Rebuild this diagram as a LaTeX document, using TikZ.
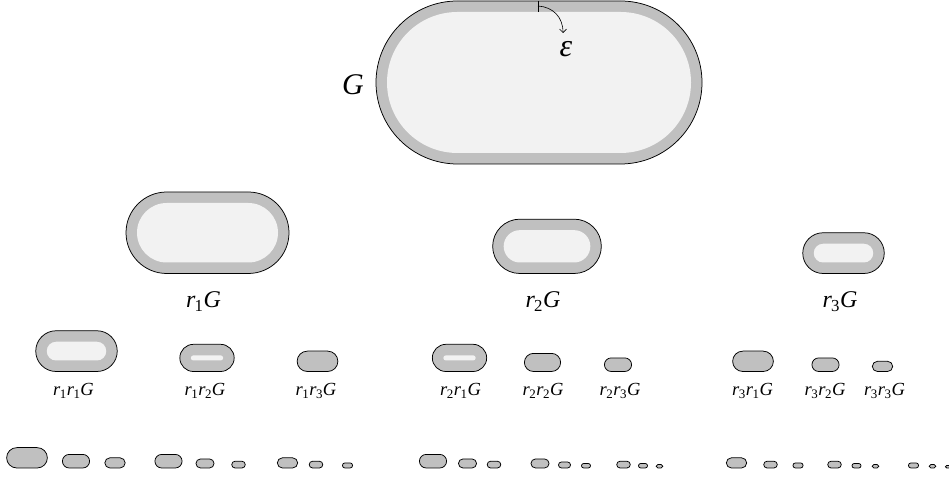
\documentclass[tikz,border=0pt]{standalone}
\usepackage{fontspec}
\setmainfont{Liberation Serif}
\usetikzlibrary{arrows.meta}
\definecolor{bandgray}{HTML}{C0C0C0}
\definecolor{lightin}{HTML}{F2F2F2}
\newcommand\stadpath[5]{\path[#5] ({#1-#3+#4},{#2-#4}) -- ({#1+#3-#4},{#2-#4}) arc[start angle=-90,end angle=90,radius=#4pt] -- ({#1-#3+#4},{#2+#4}) arc[start angle=90,end angle=270,radius=#4pt] -- cycle;}
\newcommand\stadium[3]{%
  \pgfmathsetmacro\stA{163*#3}%
  \pgfmathsetmacro\stR{81.5*#3}%
  \pgfmathsetmacro\stCY{478-(#2)+\stR}%
  \pgfmathsetmacro\stI{\stR-11}%
  \stadpath{#1}{\stCY}{\stA}{\stR}{fill=bandgray}%
  \ifdim\stI pt>0.3pt
    \pgfmathsetmacro\stIA{\stA-11}%
    \stadpath{#1}{\stCY}{\stIA}{\stI}{fill=lightin}%
  \fi
  \stadpath{#1}{\stCY}{\stA}{\stR}{draw=black,line width=0.75pt}%
}
\newcommand\rsub[1]{\textit{r}\kern-0.03em\textsubscript{#1}}
\begin{document}
\begin{tikzpicture}[x=1pt,y=1pt,
  lblA/.style={font=\fontsize{24}{26}\selectfont,anchor=base,inner sep=0pt},
  lblB/.style={font=\fontsize{18.5}{20}\selectfont,anchor=base,inner sep=0pt}]
\useasboundingbox (0,0) rectangle (949,478);
% G
\stadium{539}{164}{1}
\node[font=\fontsize{30}{32}\selectfont,inner sep=0pt] (g) at (353,393) {\textit{G}};
\coordinate (tt) at (538,477);
\coordinate (tb) at (538,466);
\draw[line width=0.75pt] (tt) -- (tb);
\coordinate (tk) at (538,472);
\coordinate (ae) at (563,445);
\draw[line width=0.6pt,-{Straight Barb[length=3.5pt,width=7pt]}] (tk) .. controls (553,471) and (563,461) .. (ae);
\node[font=\fontsize{32}{34}\selectfont,inner sep=0pt] (eps) at (566,429) {\textit{ε}};
% row 2
\stadium{207.5}{273.5}{0.5}
\stadium{547}{273.5}{0.333333}
\stadium{843.5}{273.5}{0.25}
\node[lblA] (l1) at (203.5,170) {\rsub{1}\textit{G}};
\node[lblA] (l2) at (543,170) {\rsub{2}\textit{G}};
\node[lblA] (l3) at (840,170) {\rsub{3}\textit{G}};
% row 3
\stadium{76.5}{371.5}{0.25}
\stadium{207}{371.5}{0.166667}
\stadium{317.5}{371.5}{0.125}
\stadium{459.5}{371.5}{0.166667}
\stadium{542.5}{371.5}{0.111111}
\stadium{618}{371.5}{0.083333}
\stadium{753}{371.5}{0.125}
\stadium{825.5}{371.5}{0.083333}
\stadium{882.5}{371.5}{0.0625}
\node[lblB] (l11) at (73.5,82) {\rsub{1}\rsub{1}\textit{G}};
\node[lblB] (l12) at (205,82) {\rsub{1}\rsub{2}\textit{G}};
\node[lblB] (l13) at (316,82) {\rsub{1}\rsub{3}\textit{G}};
\node[lblB] (l21) at (460.5,82) {\rsub{2}\rsub{1}\textit{G}};
\node[lblB] (l22) at (543,82) {\rsub{2}\rsub{2}\textit{G}};
\node[lblB] (l23) at (620,82) {\rsub{2}\rsub{3}\textit{G}};
\node[lblB] (l31) at (752.5,82) {\rsub{3}\rsub{1}\textit{G}};
\node[lblB] (l32) at (825,82) {\rsub{3}\rsub{2}\textit{G}};
\node[lblB] (l33) at (884.5,82) {\rsub{3}\rsub{3}\textit{G}};
% row 4
\foreach \cx/\sc in {27/0.125,76/0.083333,115/0.0625,168.5/0.083333,205/0.055556,238.5/0.041667,287.5/0.0625,316/0.041667,347.5/0.03125,
  433/0.083333,467.5/0.055556,494/0.041667,540/0.055556,564.5/0.037037,586/0.027778,623.5/0.041667,643/0.027778,659.5/0.020833,
  736.5/0.0625,770.5/0.041667,798/0.03125,834.5/0.041667,856.5/0.027778,875.5/0.020833,913.5/0.03125,932.5/0.020833,948/0.015625}
  {\stadium{\cx}{468}{\sc}}
\end{tikzpicture}
\end{document}
